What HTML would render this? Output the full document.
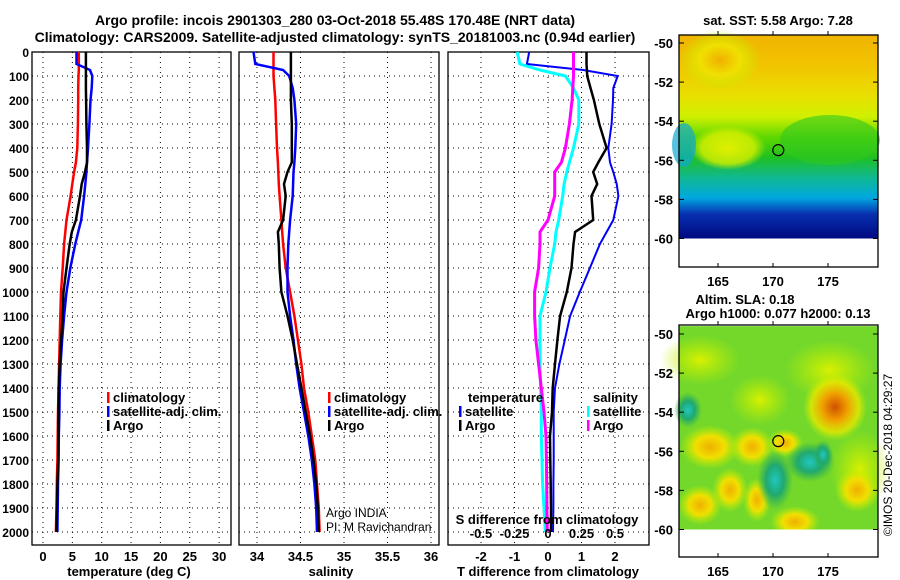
<!DOCTYPE html>
<html><head><meta charset="utf-8">
<style>
body{margin:0;background:#fff;}
svg{display:block;font-family:"Liberation Sans",sans-serif;}
.b{font-weight:bold;}
</style></head>
<body>
<svg id="c" width="900" height="580" xmlns="http://www.w3.org/2000/svg">
<defs>
<linearGradient id="sstg" x1="0" y1="0" x2="0" y2="1">
<stop offset="0" stop-color="#f0b400"/><stop offset="0.15" stop-color="#f2c400"/>
<stop offset="0.3" stop-color="#e8e000"/><stop offset="0.4" stop-color="#d0f000"/>
<stop offset="0.5" stop-color="#60d800"/><stop offset="0.6" stop-color="#20c020"/>
<stop offset="0.7" stop-color="#10b890"/><stop offset="0.8" stop-color="#00a8e0"/>
<stop offset="0.88" stop-color="#0830b0"/><stop offset="1" stop-color="#000880"/>
</linearGradient>
<radialGradient id="or"><stop offset="0" stop-color="#d05000"/><stop offset="0.4" stop-color="#f0a000"/><stop offset="0.75" stop-color="#e8e800" stop-opacity="0.8"/><stop offset="1" stop-color="#c0f000" stop-opacity="0"/></radialGradient>
<radialGradient id="ye"><stop offset="0" stop-color="#f0b000"/><stop offset="0.5" stop-color="#f0e000"/><stop offset="1" stop-color="#c0f000" stop-opacity="0"/></radialGradient>
<radialGradient id="te"><stop offset="0" stop-color="#20c8c0"/><stop offset="0.5" stop-color="#20a870"/><stop offset="1" stop-color="#30b050" stop-opacity="0"/></radialGradient>
<radialGradient id="lg"><stop offset="0" stop-color="#d8f000"/><stop offset="1" stop-color="#c0f000" stop-opacity="0"/></radialGradient>
<radialGradient id="yl"><stop offset="0" stop-color="#e0f000"/><stop offset="0.7" stop-color="#d8f000" stop-opacity="0.8"/><stop offset="1" stop-color="#d0f000" stop-opacity="0"/></radialGradient>
</defs>
<g id="g"></g>
</svg>
<script>
// ---- data ----
const depths = [0,50,75,100,150,200,300,400,460,500,550,600,700,750,800,900,1000,1100,1200,1300,1400,1500,1600,1700,1800,1900,2000];
const tempClim = [6.1,6.1,6.1,6.05,6.0,6.0,5.95,5.85,5.6,5.3,5.0,4.7,4.0,3.8,3.6,3.35,3.07,2.95,2.85,2.75,2.65,2.55,2.5,2.45,2.35,2.3,2.2];
const tempArgo = [7.3,7.3,7.3,7.3,7.3,7.35,7.4,7.5,7.5,7.15,6.6,6.3,5.6,4.9,4.55,4.0,3.5,3.35,3.1,2.85,2.67,2.65,2.62,2.6,2.45,2.35,2.3];
const tempSat = [5.7,5.7,8.0,8.4,8.3,8.1,7.9,7.67,7.5,7.4,7.2,7.0,6.5,6.0,5.5,4.65,4.0,3.6,3.25,3.0,2.85,2.8,2.7,2.65,2.55,2.5,2.45];
const salClim = [34.19,34.19,34.19,34.19,34.2,34.21,34.22,34.23,34.24,34.245,34.25,34.26,34.28,34.29,34.30,34.33,34.38,34.43,34.47,34.51,34.54,34.59,34.63,34.67,34.69,34.71,34.72];
const salArgo = [34.39,34.39,34.39,34.39,34.39,34.39,34.4,34.4,34.4,34.35,34.31,34.33,34.3,34.24,34.25,34.26,34.28,34.35,34.41,34.46,34.51,34.56,34.61,34.65,34.68,34.7,34.71];
const salSat = [33.96,33.98,34.3,34.37,34.41,34.43,34.45,34.44,34.43,34.42,34.415,34.41,34.38,34.37,34.36,34.35,34.35,34.38,34.42,34.45,34.49,34.54,34.59,34.63,34.66,34.68,34.69];
const dTSat = [-0.56,-0.63,1.05,2.08,1.95,1.94,1.9,1.8,1.85,1.95,2.05,2.1,1.95,1.75,1.55,1.25,0.95,0.66,0.5,0.34,0.21,0.17,0.17,0.17,0.16,0.16,0.15];
const dTArgo = [1.15,1.15,1.16,1.17,1.27,1.37,1.53,1.75,1.5,1.35,1.47,1.3,1.35,0.81,0.76,0.7,0.56,0.36,0.28,0.21,0.14,0.12,0.06,0.07,0.08,0.09,0.09];
const dSSat = [-0.23,-0.21,-0.06,0.13,0.19,0.23,0.23,0.19,0.16,0.14,0.12,0.11,0.08,0.06,0.05,0.015,-0.015,-0.06,-0.06,-0.06,-0.055,-0.05,-0.05,-0.045,-0.04,-0.03,-0.02];
const dSArgo = [0.19,0.19,0.19,0.19,0.185,0.18,0.16,0.13,0.1,0.05,0.05,0.05,0.0,-0.06,-0.06,-0.07,-0.1,-0.1,-0.09,-0.07,-0.05,-0.03,-0.015,-0.012,-0.01,-0.008,-0.005];
const depthTicks = [0,100,200,300,400,500,600,700,800,900,1000,1100,1200,1300,1400,1500,1600,1700,1800,1900,2000];
const tempTicks = [0,5,10,15,20,25,30];
const salTicks = [34,34.5,35,35.5,36];
const salTickLabels = ["34","34.5","35","35.5","36"];
const dTTicks = [-2,-1,0,1,2];
const dSTicks = [-0.5,-0.25,0,0.25,0.5];
const dSTickLabels = ["-0.5","-0.25","0","0.25","0.5"];
const latTicks = [-50,-52,-54,-56,-58,-60];
const lonTicks = [165,170,175];

const NS="http://www.w3.org/2000/svg";
const G=document.getElementById('g');
function el(t,a,p){const e=document.createElementNS(NS,t);for(const k in a)e.setAttribute(k,a[k]);(p||G).appendChild(e);return e;}
function txt(x,y,s,a,p){const e=el('text',Object.assign({x:x,y:y},a||{}),p);e.textContent=s;return e;}

const TOP=52,BOT=545;
const yD=d=>TOP+d*0.24;
const xT=v=>43+v*5.87;
const xS=v=>257+(v-34)*87;
const xDT=v=>548+v*33.5;
const xDS=v=>548+v*134;

function panel(x0,x1,name){
  const g=el('g',{});
  
  
  el('rect',{x:x0,y:TOP,width:x1-x0,height:BOT-TOP,fill:'#fff',stroke:'#000','stroke-width':1.3},g);
  depthTicks.forEach(d=>{
    el('line',{x1:x0,x2:x1,y1:yD(d),y2:yD(d),stroke:'#000','stroke-width':1,'stroke-dasharray':'1,4'},g);
  });
  return g;
}
function vgrid(g,xs){xs.forEach(x=>el('line',{x1:x,x2:x,y1:TOP,y2:BOT,stroke:'#000','stroke-width':1,'stroke-dasharray':'1,4'},g));}
function line(g,vals,fx,col,name,w){
  const pts=vals.map((v,i)=>fx(v).toFixed(1)+','+yD(depths[i]).toFixed(1)).join(' ');
  const p=el('polyline',{points:pts,fill:'none',stroke:col,'stroke-width':w||2.5,'stroke-linejoin':'miter'},g);
  
  
}

// titles
const t1=txt(335,25,'Argo profile: incois 2901303_280 03-Oct-2018 55.48S 170.48E (NRT data)',{'text-anchor':'middle','font-size':14,class:'b'});

const t2=txt(335,42,'Climatology: CARS2009. Satellite-adjusted climatology: synTS_20181003.nc (0.94d earlier)',{'text-anchor':'middle','font-size':14,class:'b'});


// depth labels
depthTicks.forEach(d=>{const e=txt(29,yD(d)+5,String(d),{'text-anchor':'end','font-size':12,class:'b'});
});

// panel 1 temperature
const p1=panel(32,231,'temperature-panel');
vgrid(p1,tempTicks.map(xT));
line(p1,tempClim,xT,'#ff0000','temp-climatology-line');
line(p1,tempSat,xT,'#0000ff','temp-satellite-line');
line(p1,tempArgo,xT,'#000000','temp-argo-line');
tempTicks.forEach(v=>{const e=txt(xT(v),561,String(v),{'text-anchor':'middle','font-size':13,class:'b'});});
const xl1=txt(129,576,'temperature (deg C)',{'text-anchor':'middle','font-size':13,class:'b'});

function legend(g,x,y,items){
  items.forEach((it,i)=>{
    el('rect',{x:x,y:y+i*14-10,width:2.5,height:11,fill:it[1]},g);
    const e=txt(x+6,y+i*14,it[0],{'font-size':13,class:'b'},g);
    
  });
}
legend(p1,107,402,[['climatology','#f00'],['satellite-adj. clim.','#00f'],['Argo','#000']]);

// panel 2 salinity
const p2=panel(239,439,'salinity-panel');
vgrid(p2,salTicks.map(xS));
line(p2,salClim,xS,'#ff0000','sal-climatology-line');
line(p2,salSat,xS,'#0000ff','sal-satellite-line');
line(p2,salArgo,xS,'#000000','sal-argo-line');
salTicks.forEach((v,i)=>{const e=txt(xS(v),561,salTickLabels[i],{'text-anchor':'middle','font-size':13,class:'b'});});
const xl2=txt(331,576,'salinity',{'text-anchor':'middle','font-size':13,class:'b'});
legend(p2,328,402,[['climatology','#f00'],['satellite-adj. clim.','#00f'],['Argo','#000']]);
const ai1=txt(326,517,'Argo INDIA',{'font-size':12,fill:'#000'},p2);
const ai2=txt(326,531,'PI: M Ravichandran',{'font-size':12,fill:'#000'},p2);

// panel 3 differences
const p3=panel(448,649,'difference-panel');
vgrid(p3,dTTicks.map(xDT));
line(p3,dTSat,xDT,'#0000ff','dT-satellite-line',2);
line(p3,dSSat,xDS,'#00ffff','dS-satellite-line',3);
line(p3,dSArgo,xDS,'#ff00ff','dS-argo-line',3);
line(p3,dTArgo,xDT,'#000000','dT-argo-line',2.5);
dTTicks.forEach(v=>{const e=txt(xDT(v),561,String(v),{'text-anchor':'middle','font-size':13,class:'b'});});
const xl3=txt(548,576,'T difference from climatology',{'text-anchor':'middle','font-size':13,class:'b'});
const sdt=txt(547,524,'S difference from climatology',{'text-anchor':'middle','font-size':13,class:'b'});
dSTicks.forEach((v,i)=>{const e=txt(xDS(v),538,dSTickLabels[i],{'text-anchor':'middle','font-size':13,class:'b'});});
const lt=txt(468,402,'temperature',{'font-size':13,class:'b'},p3);
legend(p3,459,416,[['satellite','#00f'],['Argo','#000']]);
const ls=txt(593,402,'salinity',{'font-size':13,class:'b'},p3);
legend(p3,587,416,[['satellite','#0ff'],['Argo','#f0f']]);

// maps
const lonX=l=>718+(l-165)*11;
function map(y0,y1,latTop,name,fillFn,title){
  const g=el('g',{});
  
  const yL=lat=>latTop+(-50-lat)*19.55;
  el('rect',{x:679,y:y0,width:199,height:y1-y0,fill:'#fff'},g);
  fillFn(g,yL(-49.6),yL(-60));
  el('rect',{x:679,y:y0,width:199,height:y1-y0,fill:'none',stroke:'#000','stroke-width':1.3},g);
  latTicks.forEach(l=>{el('line',{x1:679,x2:684,y1:yL(l),y2:yL(l),stroke:'#000'},g);el('line',{x1:873,x2:878,y1:yL(l),y2:yL(l),stroke:'#000'},g);
    const e=txt(673,yL(l)+5,String(l),{'text-anchor':'end','font-size':13,class:'b'},g);});
  lonTicks.forEach(l=>{el('line',{x1:lonX(l),x2:lonX(l),y1:y0,y2:y0-4,stroke:'#000'},g);el('line',{x1:lonX(l),x2:lonX(l),y1:y1,y2:y1-4,stroke:'#000'},g);
    const e=txt(lonX(l),y1+19,String(l),{'text-anchor':'middle','font-size':13,class:'b'},g);});
  const c=el('circle',{cx:lonX(170.48),cy:yL(-55.48),r:5.5,fill:'none',stroke:'#000','stroke-width':1.2},g);
  
  return g;
}
map(35,267,43,'sst-map',(g,a,b)=>{
  el('rect',{x:679,y:a,width:199,height:b-a,fill:'url(#sstg)'},g);
  el('ellipse',{cx:720,cy:60,rx:40,ry:30,fill:'url(#ye)'},g);
  el('ellipse',{cx:830,cy:140,rx:50,ry:25,fill:'#30c820',opacity:0.6},g);
  el('ellipse',{cx:728,cy:148,rx:38,ry:22,fill:'url(#yl)'},g);
  el('ellipse',{cx:684,cy:145,rx:12,ry:22,fill:'#10a8d0',opacity:0.7},g);
});
const ts=txt(778,25,'sat. SST: 5.58 Argo: 7.28',{'text-anchor':'middle','font-size':13,class:'b'});

map(325,557,334,'sla-map',(g,a,b)=>{
  el('rect',{x:679,y:a,width:199,height:b-a,fill:'#58d030'},g);
  el('rect',{x:679,y:a,width:199,height:b-a,fill:'#a8e820',opacity:0.35},g);
  [[700,360,40,25,'url(#lg)'],[760,400,30,25,'url(#lg)'],[830,370,45,30,'url(#lg)'],[860,470,30,40,'url(#lg)']].forEach(q=>el('ellipse',{cx:q[0],cy:q[1],rx:q[2],ry:q[3],fill:q[4]},g));
  [[710,447,30,22,'url(#ye)'],[752,447,22,20,'url(#ye)'],[730,490,18,22,'url(#ye)'],[700,505,22,20,'url(#ye)'],[757,500,14,22,'url(#ye)'],[795,522,25,16,'url(#ye)'],[857,490,22,22,'url(#ye)'],[835,407,32,34,'url(#or)'],[785,443,18,14,'url(#ye)']].forEach(q=>el('ellipse',{cx:q[0],cy:q[1],rx:q[2],ry:q[3],fill:q[4]},g));
  [[775,480,18,30,'url(#te)'],[810,462,25,20,'url(#te)'],[688,410,14,18,'url(#te)'],[823,455,10,15,'url(#te)']].forEach(q=>el('ellipse',{cx:q[0],cy:q[1],rx:q[2],ry:q[3],fill:q[4]},g));
  el('rect',{x:679,y:b,width:199,height:557-b,fill:'#fff'},g);
});
const ts2=txt(745,304,'Altim. SLA: 0.18',{'text-anchor':'middle','font-size':13,class:'b'});
const ts3=txt(778,318,'Argo h1000: 0.077 h2000: 0.13',{'text-anchor':'middle','font-size':13,class:'b'});
const cp=txt(0,0,'©IMOS 20-Dec-2018 04:29:27',{'text-anchor':'middle','font-size':12,transform:'translate(892,455) rotate(-90)'});

</script>
</body></html>
